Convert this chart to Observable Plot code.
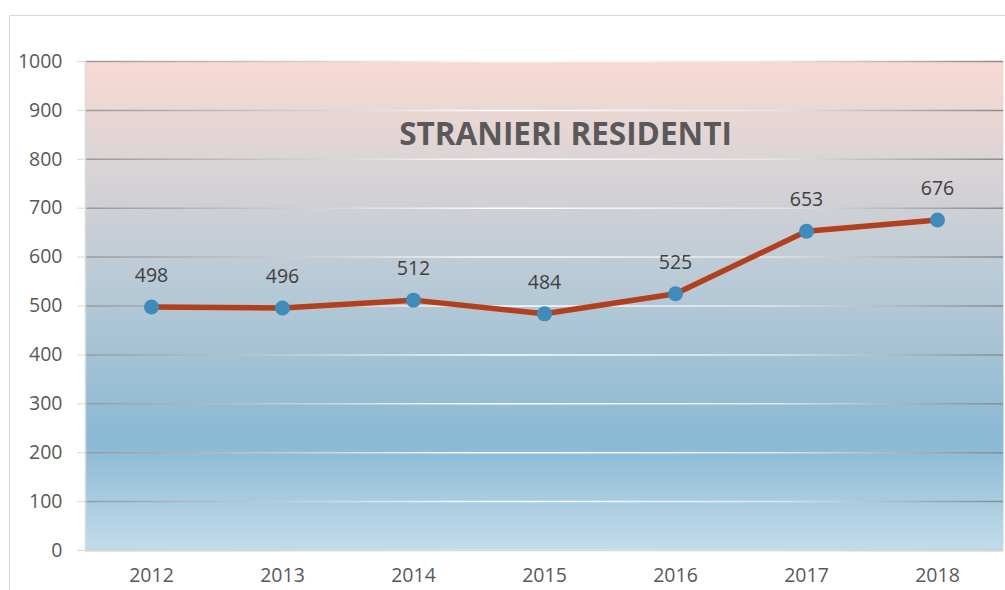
<!DOCTYPE html>
<html>
<head>
<meta charset="utf-8">
<script src="https://cdn.jsdelivr.net/npm/d3@7"></script>
<script src="https://cdn.jsdelivr.net/npm/@observablehq/plot@0.6"></script>
<style>
  body { margin: 0; background: #fff; }
  #wrap { position: relative; width: 1005px; height: 590px; overflow: hidden; }
  #border { position: absolute; left: 9px; top: 15px; width: 1010px; height: 600px; border: 1px solid #d9d9d9; box-sizing: border-box; pointer-events: none; }
  svg { font-family: "Open Sans", "Noto Sans", sans-serif; }
  svg g[aria-label="y-axis tick label"] text, svg g[aria-label="x-axis tick label"] text { font-size: 19.5px !important; }
</style>
</head>
<body>
<div id="wrap"><div id="border"></div></div>
<script>
const years = ["2012", "2013", "2014", "2015", "2016", "2017", "2018"];
const residents = [498, 496, 512, 484, 525, 653, 676];
const yTicks = [0, 100, 200, 300, 400, 500, 600, 700, 800, 900, 1000];
const title = "STRANIERI RESIDENTI";

const data = years.map((y, i) => ({year: y, value: residents[i]}));

const chart = Plot.plot({
  width: 1005,
  height: 590,
  marginLeft: 85,
  marginRight: 2,
  marginTop: 61,
  marginBottom: 40,
  style: {fontSize: "19.5px", color: "#595959", background: "transparent"},
  x: {type: "point", domain: years, padding: 0.5, label: null},
  y: {domain: [0, 1000], label: null},
  marks: [
    Plot.frame({fill: "url(#bgGrad)", stroke: null}),
    Plot.ruleY(yTicks, {stroke: "url(#gridGrad)", strokeWidth: 1.5}),
    Plot.axisY({ticks: yTicks, tickFormat: "d", tickSize: 8, tickPadding: 15, stroke: "#d9d9d9", fill: "#595959", fontSize: 19.5}),
    Plot.axisX({tickSize: 0, tickPadding: 18, fill: "#595959", fontSize: 19.5}),
    Plot.frame({anchor: "left", stroke: "#d9d9d9", strokeWidth: 1.5}),
    Plot.ruleY([0], {stroke: "#d9d9d9", strokeWidth: 1.5}),
    Plot.text([title], {frameAnchor: "top", lineAnchor: "middle", dx: 21, dy: 73, fontSize: 31.5, fontWeight: "bold", fill: "#595959"}),
    Plot.line(data, {x: "year", y: "value", stroke: "#b3401c", strokeWidth: 5.5}),
    Plot.dot(data, {x: "year", y: "value", r: 7.5, fill: "#3f8cbc", stroke: null}),
    Plot.text(data, {x: "year", y: "value", text: d => String(d.value), dy: -31, fontSize: 19.5, fill: "#404040"})
  ]
});

const ns = "http://www.w3.org/2000/svg";
const defs = document.createElementNS(ns, "defs");
defs.innerHTML = `
  <linearGradient id="bgGrad" x1="0" y1="0" x2="0" y2="1">
    <stop offset="0" stop-color="#f9dad2"/>
    <stop offset="0.2" stop-color="#dcd4d6"/>
    <stop offset="0.45" stop-color="#b9cad6"/>
    <stop offset="0.78" stop-color="#89b9d4"/>
    <stop offset="1" stop-color="#c3dcea"/>
  </linearGradient>
  <linearGradient id="gridGrad" gradientUnits="userSpaceOnUse" x1="85" y1="0" x2="1003" y2="0">
    <stop offset="0" stop-color="#9a9a9a"/>
    <stop offset="0.45" stop-color="#ffffff"/>
    <stop offset="0.75" stop-color="#e6e6e6"/>
    <stop offset="1" stop-color="#8a8a8a"/>
  </linearGradient>`;
chart.insertBefore(defs, chart.firstChild);
document.getElementById("wrap").insertBefore(chart, document.getElementById("border"));
</script>
</body>
</html>
